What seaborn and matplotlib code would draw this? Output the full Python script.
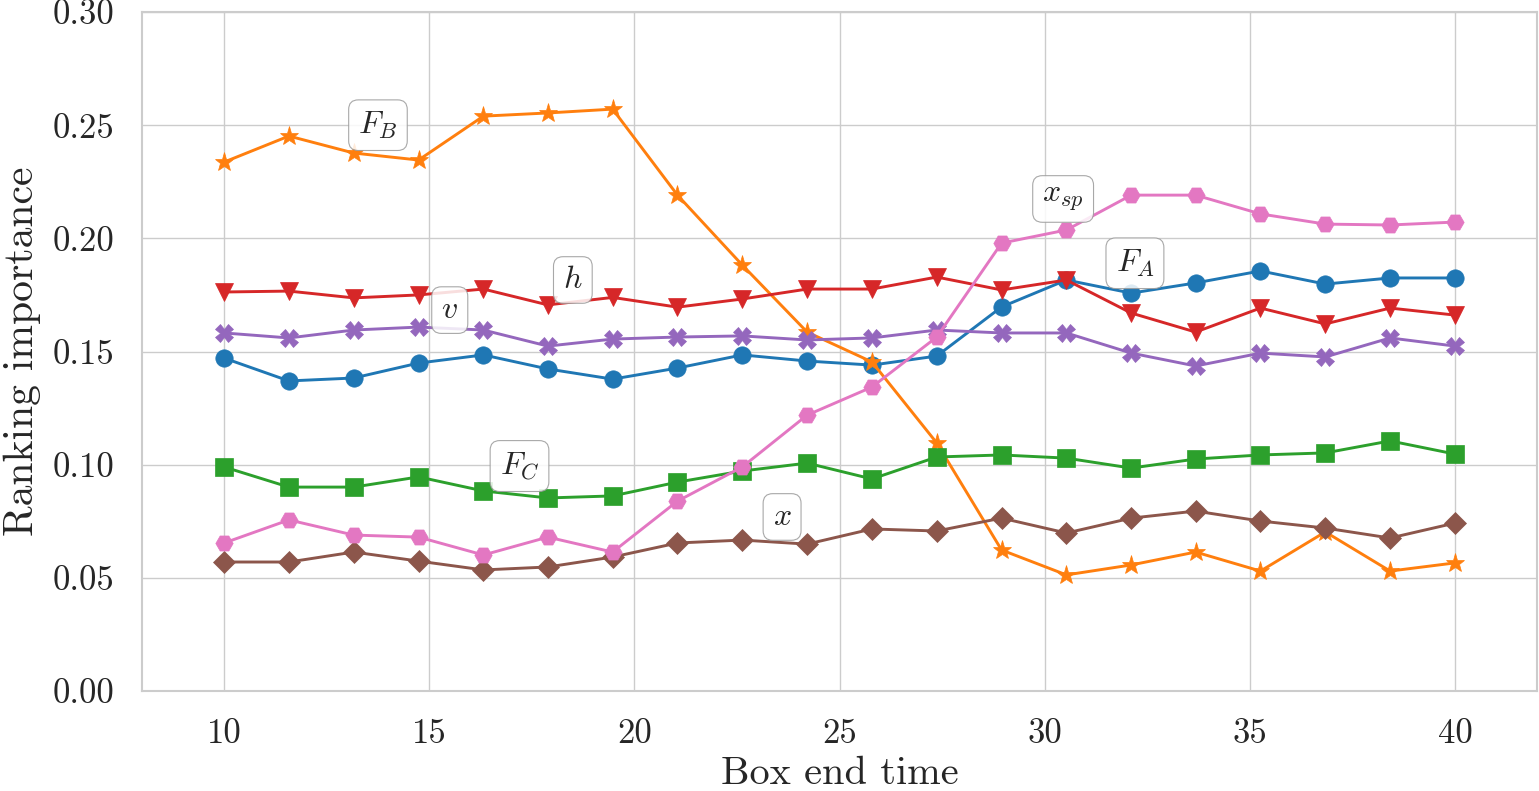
import matplotlib
matplotlib.use("Agg")
import matplotlib.pyplot as plt
import seaborn as sns
import pandas as pd

box_end_time = [10.0, 11.58, 13.16, 14.74, 16.32, 17.89, 19.47, 21.05, 22.63, 24.21,
                25.79, 27.37, 28.95, 30.53, 32.11, 33.68, 35.26, 36.84, 38.42, 40.0]

F_A = [0.1471, 0.1370, 0.1383, 0.1449, 0.1485, 0.1423, 0.1378, 0.1427, 0.1485, 0.1458,
       0.1440, 0.1480, 0.1697, 0.1816, 0.1758, 0.1803, 0.1856, 0.1798, 0.1825, 0.1825]
F_B = [0.2337, 0.2452, 0.2377, 0.2346, 0.2540, 0.2554, 0.2571, 0.2191, 0.1882, 0.1586,
       0.1454, 0.1096, 0.0623, 0.0513, 0.0557, 0.0614, 0.0530, 0.0703, 0.0530, 0.0566]
F_C = [0.0990, 0.0901, 0.0901, 0.0946, 0.0884, 0.0853, 0.0862, 0.0923, 0.0972, 0.1007,
       0.0937, 0.1034, 0.1043, 0.1029, 0.0985, 0.1025, 0.1043, 0.1052, 0.1105, 0.1047]
h = [0.1763, 0.1767, 0.1737, 0.1750, 0.1776, 0.1706, 0.1739, 0.1696, 0.1732, 0.1776,
     0.1776, 0.1829, 0.1772, 0.1816, 0.1670, 0.1586, 0.1692, 0.1622, 0.1692, 0.1661]
v = [0.1582, 0.1560, 0.1595, 0.1608, 0.1595, 0.1524, 0.1555, 0.1564, 0.1569, 0.1551,
     0.1560, 0.1595, 0.1582, 0.1582, 0.1493, 0.1436, 0.1493, 0.1476, 0.1560, 0.1524]
x_pos = [0.0570, 0.0570, 0.0614, 0.0574, 0.0535, 0.0548, 0.0592, 0.0654, 0.0667, 0.0649,
         0.0716, 0.0707, 0.0764, 0.0698, 0.0764, 0.0795, 0.0751, 0.0720, 0.0676, 0.0742]
x_sp = [0.0654, 0.0756, 0.0689, 0.0680, 0.0601, 0.0680, 0.0614, 0.0839, 0.0990, 0.1219,
        0.1343, 0.1564, 0.1979, 0.2037, 0.2191, 0.2191, 0.2108, 0.2063, 0.2059, 0.2072]

series_names = ["$F_A$", "$F_B$", "$F_C$", "$h$", "$v$", "$x$", "$x_{sp}$"]
series_values = [F_A, F_B, F_C, h, v, x_pos, x_sp]
markers = ["o", "*", "s", "v", "X", "D", "H"]

label_x = [32.2, 13.75, 17.2, 18.5, 15.5, 23.6, 30.45]
label_y = [0.189, 0.250, 0.0994, 0.1816, 0.1683, 0.0769, 0.2174]

x_ticks = [10, 15, 20, 25, 30, 35, 40]
y_ticks = [0.00, 0.05, 0.10, 0.15, 0.20, 0.25, 0.30]

sns.set_theme(style="whitegrid")
plt.rcParams["font.family"] = ["cmr10", "DejaVu Serif"]
plt.rcParams["mathtext.fontset"] = "cm"
plt.rcParams["axes.formatter.use_mathtext"] = True
plt.rcParams["axes.unicode_minus"] = False

palette = sns.color_palette("tab10", 7)

fig = plt.figure(figsize=(15.39, 7.91), dpi=100)
ax = fig.add_axes([0.0923, 0.1264, 0.9064, 0.8584])

for name, vals, m, c in zip(series_names, series_values, markers, palette):
    df = pd.DataFrame({"t": box_end_time, "val": vals})
    ms = 14 if m == "*" else 12.5
    if m == "D":
        ms = 11.5
    sns.lineplot(data=df, x="t", y="val", ax=ax, color=c, marker=m,
                 markersize=ms, markeredgecolor=c, markeredgewidth=0.5,
                 linewidth=2.1)

for name, lx, ly in zip(series_names, label_x, label_y):
    ax.text(lx, ly, name, fontsize=23, ha="center", va="center",
            bbox=dict(boxstyle="round,pad=0.3", fc="white", ec="#999999",
                      lw=0.8, alpha=0.85))

ax.set_xlim(8.0, 42.0)
ax.set_ylim(0.0, 0.30)
ax.set_xticks(x_ticks)
ax.set_yticks(y_ticks)
ax.set_yticklabels([f"{t:.2f}" for t in y_ticks])
ax.set_xticklabels([str(t) for t in x_ticks])
ax.tick_params(axis="x", labelsize=25, pad=14)
ax.tick_params(axis="y", labelsize=25, pad=14)
ax.set_xlabel("Box end time", fontsize=29, labelpad=4)
ax.set_ylabel("Ranking importance", fontsize=30, labelpad=8)
for s in ax.spines.values():
    s.set_color("#cccccc")
    s.set_linewidth(1.5)

fig.savefig("out.png", dpi=100)
